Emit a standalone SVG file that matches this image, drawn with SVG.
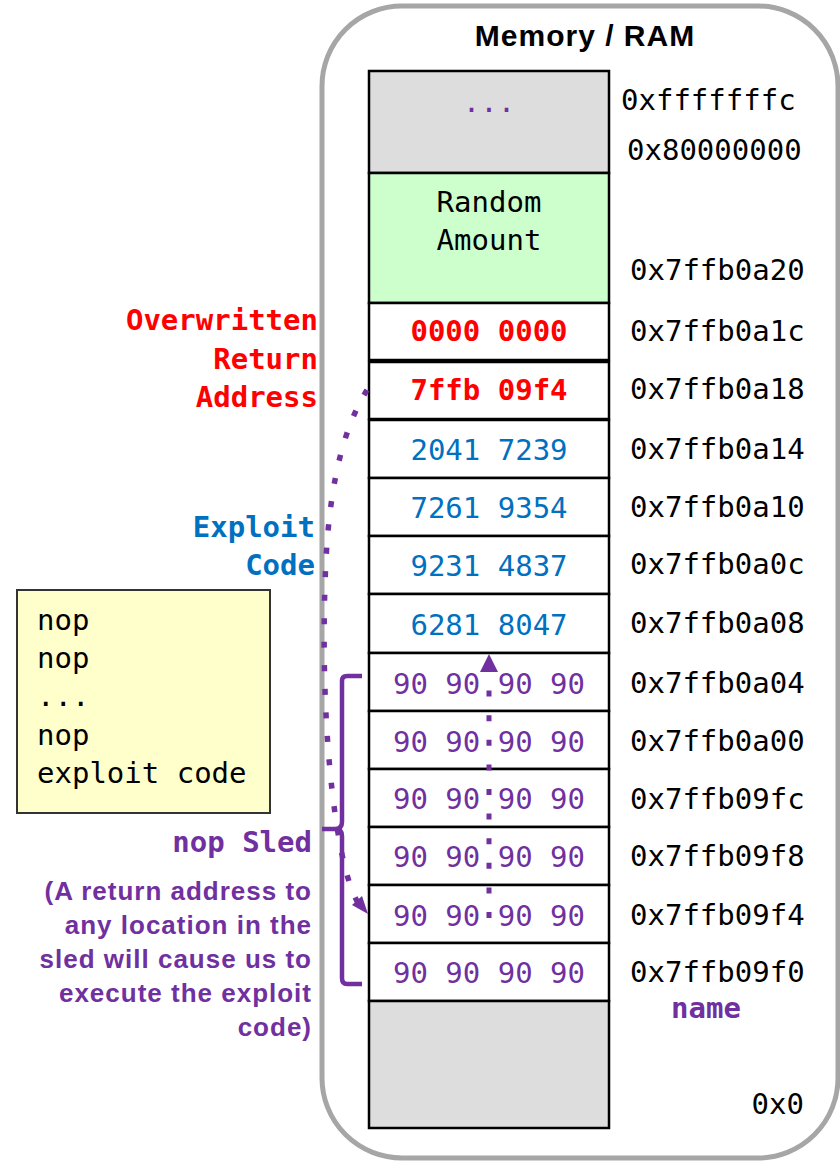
<svg xmlns="http://www.w3.org/2000/svg" width="840" height="1162" viewBox="0 0 840 1162">
<style>
.mono{font-family:"DejaVu Sans Mono","Liberation Mono",monospace;font-size:29px}
.cell{stroke:#000;stroke-width:2.5}
.w{fill:#fff}
.addr{fill:#000}
.c{text-anchor:middle}
.r{text-anchor:end}
.b{font-weight:bold}
.red{fill:#ff0000}
.blue{fill:#0070c0}
.pur{fill:#7030a0}
.sans{font-family:"Liberation Sans",Arial,sans-serif;font-weight:bold}
</style>
<g id="frame">
<rect x="322" y="6" width="516" height="1152" rx="80" ry="80" fill="#fff" stroke="#a6a6a6" stroke-width="5"/>
<text x="585" y="46" class="sans c" font-size="30" letter-spacing="1">Memory / RAM</text>
</g>
<g id="memory" class="mono">
<g id="top"><rect x="369" y="71" width="240" height="102" fill="#dddddd" class="cell"/><text x="489" y="112" class="c pur">...</text></g>
<g id="random"><rect x="369" y="173" width="240" height="130" fill="#ccffcc" class="cell"/><text x="489" y="212" class="c">Random</text><text x="489" y="250" class="c">Amount</text></g>
<g id="r1"><rect x="369" y="303" width="240" height="57" class="cell w"/><text x="489" y="341" class="c b red">0000 0000</text></g>
<g id="r2"><rect x="369" y="362" width="240" height="57" class="cell w"/><text x="489" y="400" class="c b red">7ffb 09f4</text></g>
<g id="r3"><rect x="369" y="420" width="240" height="58" class="cell w"/><text x="489" y="460" class="c blue">2041 7239</text></g>
<g id="r4"><rect x="369" y="478" width="240" height="58" class="cell w"/><text x="489" y="518" class="c blue">7261 9354</text></g>
<g id="r5"><rect x="369" y="536" width="240" height="58" class="cell w"/><text x="489" y="576" class="c blue">9231 4837</text></g>
<g id="r6"><rect x="369" y="594" width="240" height="59" class="cell w"/><text x="489" y="635" class="c blue">6281 8047</text></g>
<g id="s1"><rect x="369" y="653" width="240" height="58" class="cell w"/><text x="489" y="694" class="c pur">90 90 90 90</text></g>
<g id="s2"><rect x="369" y="711" width="240" height="58" class="cell w"/><text x="489" y="752" class="c pur">90 90 90 90</text></g>
<g id="s3"><rect x="369" y="769" width="240" height="58" class="cell w"/><text x="489" y="809" class="c pur">90 90 90 90</text></g>
<g id="s4"><rect x="369" y="827" width="240" height="58" class="cell w"/><text x="489" y="867" class="c pur">90 90 90 90</text></g>
<g id="s5"><rect x="369" y="885" width="240" height="58" class="cell w"/><text x="489" y="926" class="c pur">90 90 90 90</text></g>
<g id="s6"><rect x="369" y="943" width="240" height="58" class="cell w"/><text x="489" y="983" class="c pur">90 90 90 90</text></g>
<g id="bottom"><rect x="369" y="1001" width="240" height="127" fill="#dddddd" class="cell"/></g>
</g>
<g id="addresses" class="mono addr">
<text x="621" y="110">0xfffffffc</text>
<text x="627" y="160">0x80000000</text>
<text x="630" y="280">0x7ffb0a20</text>
<text x="630" y="341">0x7ffb0a1c</text>
<text x="630" y="399">0x7ffb0a18</text>
<text x="630" y="459">0x7ffb0a14</text>
<text x="630" y="517">0x7ffb0a10</text>
<text x="630" y="574">0x7ffb0a0c</text>
<text x="630" y="633">0x7ffb0a08</text>
<text x="630" y="693">0x7ffb0a04</text>
<text x="630" y="751">0x7ffb0a00</text>
<text x="630" y="809">0x7ffb09fc</text>
<text x="630" y="866">0x7ffb09f8</text>
<text x="630" y="925">0x7ffb09f4</text>
<text x="630" y="982">0x7ffb09f0</text>
<text x="706" y="1018" class="c b pur">name</text>
<text x="804" y="1114" class="r">0x0</text>
</g>
<g id="labels" class="mono b">
<text x="318" y="330" class="r red">Overwritten</text>
<text x="318" y="369" class="r red">Return</text>
<text x="318" y="407" class="r red">Address</text>
<text x="315" y="537" class="r blue">Exploit</text>
<text x="315" y="575" class="r blue">Code</text>
<text x="312" y="852" class="r pur">nop Sled</text>
</g>
<g id="note" class="sans pur" font-size="26" letter-spacing="1">
<text x="312" y="900" text-anchor="end">(A return address to</text>
<text x="312" y="934" text-anchor="end">any location in the</text>
<text x="312" y="968" text-anchor="end">sled will cause us to</text>
<text x="312" y="1002" text-anchor="end">execute the exploit</text>
<text x="312" y="1036" text-anchor="end">code)</text>
</g>
<g id="nopbox">
<rect x="17" y="590" width="253" height="223" fill="#ffffcc" stroke="#333" stroke-width="2"/>
<g class="mono">
<text x="37" y="630">nop</text>
<text x="37" y="668">nop</text>
<text x="37" y="706">...</text>
<text x="37" y="745">nop</text>
<text x="37" y="783">exploit code</text>
</g>
</g>
<g id="connectors" fill="none" stroke="#7030a0">
<path d="M367,390 C345,425 330,480 326,560 C322,640 324,740 336,820 C341,855 348,885 358,903" stroke-width="5.5" stroke-dasharray="6 17.5"/>
<path d="M352,905 L368,914 L362,896 z" fill="#7030a0" stroke="none"/>
<path d="M489,918 L489,672" stroke-width="5" stroke-dasharray="6 18.6"/>
<path d="M489,654 L480,672 L498,672 z" fill="#7030a0" stroke="none"/>
<path d="M362,676 H347 Q342,676 342,681 V822 Q342,829 335,829 H322 M335,829 Q342,829 342,836 V978 Q342,984 347,984 H362" stroke-width="4.5"/>
</g>
</svg>
